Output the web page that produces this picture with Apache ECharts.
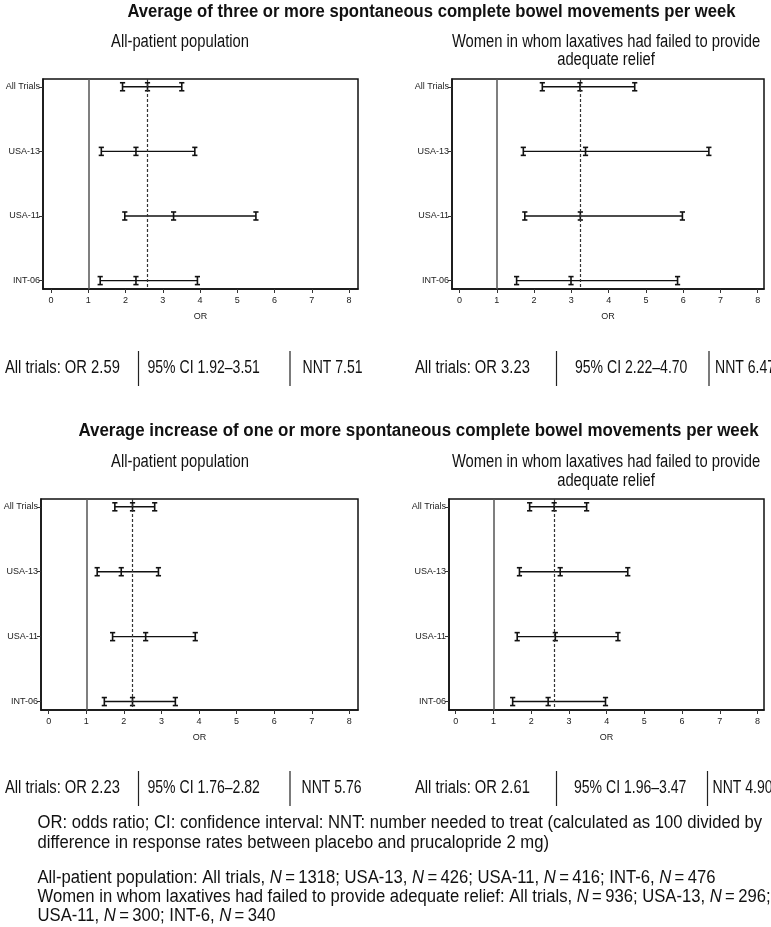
<!DOCTYPE html>
<html>
<head>
<meta charset="utf-8">
<script src="https://cdn.jsdelivr.net/npm/echarts@6/dist/echarts.min.js"></script>
<style>
html,body{margin:0;padding:0;background:#fff;}
#chart{width:771px;height:927px;}
</style>
</head>
<body>
<div id="chart"></div>
<script>
// ---- data ----
const trials = ['All Trials', 'USA-13', 'USA-11', 'INT-06'];
const xTicks = [0, 1, 2, 3, 4, 5, 6, 7, 8];

// Panel 1: >=3 SCBM/week, all-patient population
const p1Low  = [1.92, 1.35, 1.98, 1.32];
const p1Mid  = [2.59, 2.28, 3.29, 2.28];
const p1High = [3.51, 3.86, 5.50, 3.93];
// Panel 2: >=3 SCBM/week, women with laxative failure
const p2Low  = [2.22, 1.71, 1.75, 1.53];
const p2Mid  = [3.23, 3.38, 3.24, 2.99];
const p2High = [4.70, 6.69, 5.98, 5.85];
// Panel 3: increase >=1 SCBM/week, all-patient population
const p3Low  = [1.76, 1.29, 1.70, 1.48];
const p3Mid  = [2.23, 1.93, 2.58, 2.23];
const p3High = [2.82, 2.92, 3.90, 3.37];
// Panel 4: increase >=1 SCBM/week, women with laxative failure
const p4Low  = [1.96, 1.69, 1.63, 1.51];
const p4Mid  = [2.61, 2.77, 2.64, 2.45];
const p4High = [3.47, 4.56, 4.30, 3.97];

const nntValues = [7.51, 6.47, 5.76, 4.90];

const mainTitles = [
  'Average of three or more spontaneous complete bowel movements per week',
  'Average increase of one or more spontaneous complete bowel movements per week'
];
const subTitleLeft = 'All-patient population';
const subTitleRight = ['Women in whom laxatives had failed to provide', 'adequate relief'];

// ---- layout ----
const FN = "'Liberation Sans',Arial,Helvetica,sans-serif";
const SX = 0.82; // horizontal condensing to mimic a narrow face
const panels = [
  {low: p1Low, mid: p1Mid, high: p1High, grid: {left: 43, top: 79, width: 315, height: 210}, xmin: -0.215, xmax: 8.24},
  {low: p2Low, mid: p2Mid, high: p2High, grid: {left: 452, top: 79, width: 312, height: 210}, xmin: -0.204, xmax: 8.17},
  {low: p3Low, mid: p3Mid, high: p3High, grid: {left: 41, top: 499, width: 317, height: 211}, xmin: -0.205, xmax: 8.23},
  {low: p4Low, mid: p4Mid, high: p4High, grid: {left: 449, top: 499, width: 315, height: 211}, xmin: -0.177, xmax: 8.17}
];

function renderItem(params, api) {
  const y = api.value(0);
  const pL = api.coord([api.value(1), y]);
  const pM = api.coord([api.value(2), y]);
  const pH = api.coord([api.value(3), y]);
  const h = 4, w = 2.6;
  const st = {stroke: '#111', lineWidth: 1.6};
  const children = [{type: 'line', shape: {x1: pL[0], y1: pL[1], x2: pH[0], y2: pH[1]}, style: {stroke: '#111', lineWidth: 1.4}}];
  [pL, pM, pH].forEach(p => {
    children.push({type: 'line', shape: {x1: p[0], y1: p[1] - h, x2: p[0], y2: p[1] + h}, style: st});
    children.push({type: 'line', shape: {x1: p[0] - w, y1: p[1] - h, x2: p[0] + w, y2: p[1] - h}, style: st});
    children.push({type: 'line', shape: {x1: p[0] - w, y1: p[1] + h, x2: p[0] + w, y2: p[1] + h}, style: st});
  });
  return {type: 'group', children};
}

const grids = [], xAxes = [], yAxes = [], series = [];
panels.forEach((pn, i) => {
  grids.push(Object.assign({show: true, borderColor: '#111', borderWidth: 1.5, backgroundColor: 'transparent'}, pn.grid));
  xAxes.push({
    type: 'value', gridIndex: i, min: pn.xmin, max: pn.xmax, position: 'bottom',
    name: 'OR', nameLocation: 'middle', nameGap: 23,
    nameTextStyle: {fontFamily: FN, fontSize: 9, color: '#222'},
    splitLine: {show: false},
    axisLine: {show: true, onZero: false, lineStyle: {color: '#111', width: 1.5}},
    axisTick: {show: true, inside: false, length: 4, customValues: xTicks, lineStyle: {color: '#333'}},
    axisLabel: {customValues: xTicks, fontFamily: FN, fontSize: 9, color: '#222', margin: 7, formatter: v => String(v)}
  });
  yAxes.push({
    type: 'value', gridIndex: i, min: -0.12, max: 3.13, inverse: true, position: 'left',
    splitLine: {show: false},
    axisLine: {show: true, onZero: false, lineStyle: {color: '#111', width: 1.5}},
    axisTick: {show: true, inside: false, length: 4, customValues: [0, 1, 2, 3], lineStyle: {color: '#333'}},
    axisLabel: {customValues: [0, 1, 2, 3], fontFamily: FN, fontSize: 9, color: '#222', margin: 3,
      formatter: v => trials[Math.round(v)] || ''}
  });
  series.push({
    type: 'custom', xAxisIndex: i, yAxisIndex: i, renderItem,
    encode: {x: [1, 2, 3], y: 0},
    data: trials.map((t, k) => [k, pn.low[k], pn.mid[k], pn.high[k]]),
    silent: true,
    markLine: {
      silent: true, symbol: ['none', 'none'], label: {show: false},
      data: [
        {xAxis: 1, lineStyle: {type: 'solid', color: '#555', width: 1.5}},
        {xAxis: pn.mid[0], lineStyle: {type: [3, 2], color: '#333', width: 1.2}}
      ]
    }
  });
});

// ---- text graphics ----
const graphics = [];
function txt(x, y, text, opts, sx) {
  graphics.push({type: 'text', x, y, scaleX: sx || SX, silent: true, style: Object.assign({
    text, font: '18px ' + FN, fill: '#111', textAlign: 'left', textVerticalAlign: 'middle'
  }, opts || {})});
}
function vline(x, y1, y2) {
  graphics.push({type: 'line', silent: true, shape: {x1: x, y1, x2: x, y2}, style: {stroke: '#222', lineWidth: 1.2}});
}
txt(431.5, 12, mainTitles[0], {font: 'bold 18px ' + FN, textAlign: 'center'}, 0.925);
txt(418.5, 431, mainTitles[1], {font: 'bold 18px ' + FN, textAlign: 'center'}, 0.94);
[[42, 60], [462, 481]].forEach(ys => {
  txt(180, ys[0], subTitleLeft, {textAlign: 'center'});
  txt(606, ys[0], subTitleRight[0], {textAlign: 'center'});
  txt(606, ys[1], subTitleRight[1], {textAlign: 'center'});
});

const ciText = p => `95% CI ${p.low[0].toFixed(2)}\u2013${p.high[0].toFixed(2)}`;
const orText = p => `All trials: OR ${p.mid[0].toFixed(2)}`;
const statRows = [
  {y: 368, sepY: [351, 386], left: [panels[0], 0], right: [panels[1], 1], xs: [5, 147.5, 302.5, 415, 575, 715], seps: [138.5, 290, 556.5, 709]},
  {y: 788, sepY: [771, 806], left: [panels[2], 2], right: [panels[3], 3], xs: [5, 147.5, 301.5, 415, 574, 712.5], seps: [138.5, 290, 556.5, 707.5]}
];
statRows.forEach(r => {
  const [pl, il] = r.left, [pr, ir] = r.right;
  txt(r.xs[0], r.y, orText(pl));
  txt(r.xs[1], r.y, ciText(pl), null, 0.78);
  txt(r.xs[2], r.y, 'NNT ' + nntValues[il].toFixed(2), null, 0.78);
  txt(r.xs[3], r.y, orText(pr));
  txt(r.xs[4], r.y, ciText(pr), null, 0.78);
  txt(r.xs[5], r.y, 'NNT ' + nntValues[ir].toFixed(2), null, 0.78);
  r.seps.forEach(x => vline(x, r.sepY[0], r.sepY[1]));
});

const FSX = 0.925;
const richStyle = {i: {fontStyle: 'italic', fontSize: 18, fontFamily: FN, fill: '#111'}};
const eq = '\u2009=\u2009';
txt(37.5, 823, 'OR: odds ratio; CI: confidence interval: NNT: number needed to treat (calculated as 100 divided by', null, FSX);
txt(37.5, 843, 'difference in response rates between placebo and prucalopride 2 mg)', null, FSX);
txt(37.5, 878, `All-patient population: All trials, {i|N}${eq}1318; USA-13, {i|N}${eq}426; USA-11, {i|N}${eq}416; INT-6, {i|N}${eq}476`, {rich: richStyle}, FSX);
txt(37.5, 897, `Women in whom laxatives had failed to provide adequate relief: All trials, {i|N}${eq}936; USA-13, {i|N}${eq}296;`, {rich: richStyle}, FSX);
txt(37.5, 916, `USA-11, {i|N}${eq}300; INT-6, {i|N}${eq}340`, {rich: richStyle}, FSX);

const chart = echarts.init(document.getElementById('chart'), null, {renderer: 'canvas'});
chart.setOption({
  animation: false,
  backgroundColor: '#fff',
  grid: grids, xAxis: xAxes, yAxis: yAxes, series,
  graphic: graphics
});
</script>
</body>
</html>
